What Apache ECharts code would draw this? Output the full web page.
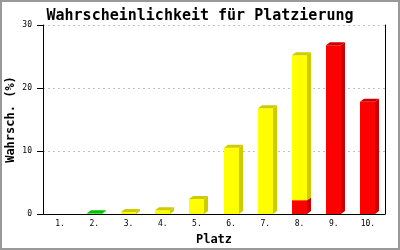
<!DOCTYPE html>
<html>
<head>
<meta charset="utf-8">
<script src="https://cdn.jsdelivr.net/npm/echarts@6/dist/echarts.min.js"></script>
<style>html,body{margin:0;padding:0;background:#fff}#c{width:400px;height:250px}</style>
</head>
<body>
<div id="c"></div>
<script>
var categories = ['1.', '2.', '3.', '4.', '5.', '6.', '7.', '8.', '9.', '10.'];
var redValues    = [0, 0,   0,   0,   0,   0,    0,    2.2,  26.8, 17.8];
var yellowValues = [0, 0,   0.3, 0.6, 2.4, 10.5, 16.8, 23.0, 0,    0];
var greenValues  = [0, 0.1, 0,   0,   0,   0,    0,    0,    0,    0];
var yTicks = [0, 10, 20, 30];

var colors = {
  red:    { front: '#ff0000', dark: '#cc0000' },
  yellow: { front: '#ffff00', dark: '#cccc00' },
  green:  { front: '#00ff00', dark: '#00c000' }
};

var segs = [];
for (var i = 0; i < categories.length; i++) {
  var base = 0;
  var parts = [['red', redValues[i]], ['yellow', yellowValues[i]], ['green', greenValues[i]]];
  var nonzero = parts.filter(function (p) { return p[1] > 0; });
  nonzero.forEach(function (p, k) {
    segs.push([i, base, base + p[1], p[0], k === nonzero.length - 1 ? 1 : 0]);
    base += p[1];
  });
}

var DX = 4, DY = 3, BW = 15;

function renderItem(params, api) {
  var i = api.value(0);
  var p0 = api.coord([i, api.value(1)]);
  var p1 = api.coord([i, api.value(2)]);
  var c = colors[segs[params.dataIndex][3]];
  var isTop = segs[params.dataIndex][4];
  var x0 = Math.round(p0[0] - BW / 2), x1 = x0 + BW;
  var yb = p0[1], yt = p1[1];
  var children = [
    { type: 'polygon', shape: { points: [[x1, yt], [x1 + DX, yt - DY], [x1 + DX, yb - DY], [x1, yb]] },
      style: { fill: c.dark } },
    { type: 'rect', shape: { x: x0, y: yt, width: BW, height: yb - yt }, style: { fill: c.front } }
  ];
  if (isTop) {
    children.push({ type: 'polygon', shape: { points: [[x0, yt], [x0 + DX, yt - DY], [x1 + DX, yt - DY], [x1, yt]] },
      style: { fill: c.dark } });
  }
  return { type: 'group', children: children };
}

var chart = echarts.init(document.getElementById('c'), null, { renderer: 'canvas' });
chart.setOption({
  animation: false,
  backgroundColor: '#fff',
  title: {
    text: 'Wahrscheinlichkeit für Platzierung',
    left: 'center', top: 4,
    textStyle: { fontFamily: 'DejaVu Sans Mono', fontWeight: 'bold', fontSize: 15, color: '#000' }
  },
  grid: { left: 43, right: 15, top: 25, bottom: 36, containLabel: false, outerBoundsMode: 'none' },
  xAxis: {
    type: 'category', data: categories,
    name: 'Platz', nameLocation: 'middle', nameGap: 20, nameMoveOverlap: false,
    nameTextStyle: { fontFamily: 'DejaVu Sans Mono', fontWeight: 'bold', fontSize: 12, color: '#000' },
    axisLine: { lineStyle: { color: '#000', width: 1 } },
    axisTick: { show: false },
    axisLabel: { margin: 6, fontFamily: 'DejaVu Sans Mono', fontSize: 8, color: '#000' },
    splitLine: { show: false }
  },
  yAxis: [{
    type: 'value', min: yTicks[0], max: yTicks[yTicks.length - 1], interval: 10,
    name: 'Wahrsch. (%)', nameLocation: 'middle', nameGap: 26, nameMoveOverlap: false,
    nameTextStyle: { fontFamily: 'DejaVu Sans Mono', fontWeight: 'bold', fontSize: 12, color: '#000' },
    axisLine: { show: true, lineStyle: { color: '#000', width: 1 } },
    axisTick: { show: true, inside: false, length: 6, lineStyle: { color: '#000', width: 1 } },
    axisLabel: { margin: 11, fontFamily: 'DejaVu Sans Mono', fontSize: 8, color: '#000' },
    splitLine: { show: true, lineStyle: { color: '#c0c0c0', type: [2, 3] } }
  }, {
    type: 'value', min: yTicks[0], max: yTicks[yTicks.length - 1], interval: 10, position: 'right',
    axisLine: { show: true, lineStyle: { color: '#000', width: 1 } },
    axisTick: { show: false }, axisLabel: { show: false }, splitLine: { show: false }
  }],
  series: [{
    type: 'custom', renderItem: renderItem,
    encode: { x: 0, y: [1, 2] },
    data: segs.map(function (s) { return [s[0], s[1], s[2]]; }),
    z: 1
  }],
  graphic: [{
    type: 'rect', shape: { x: 1, y: 1, width: 398, height: 248 },
    style: { fill: 'none', stroke: '#999', lineWidth: 2 }, silent: true, z: 100
  }]
});
</script>
</body>
</html>
